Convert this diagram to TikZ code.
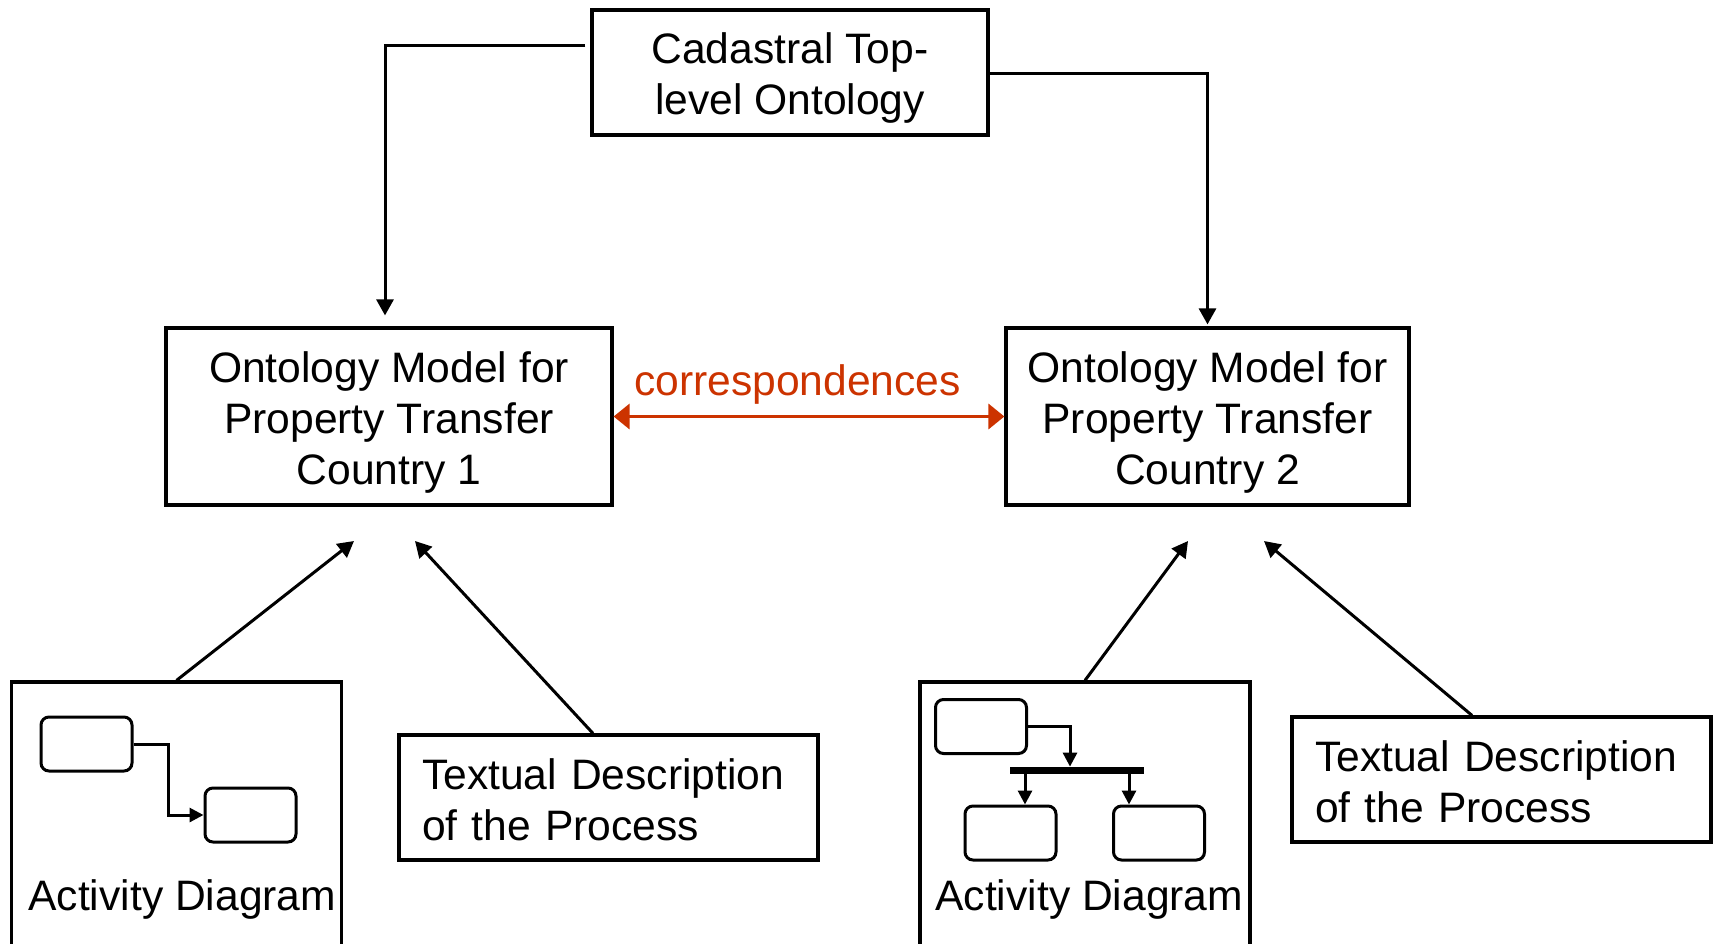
\documentclass[tikz,border=0pt]{standalone}
\usepackage{fontspec}
\setmainfont{Liberation Sans}
\usetikzlibrary{arrows.meta}

\definecolor{corrred}{RGB}{204,51,0}
\newcommand{\tallline}[1]{\rule{0pt}{#1}}
\tikzset{
  box/.style={draw, line width=1.6pt, align=center, inner sep=0pt, font=\fontsize{21.3}{25.5}\selectfont},
  textbox/.style={box, align=left, text width=186.5pt, inner xsep=11.5pt, minimum height=62.5pt},
  actbox/.style={draw, line width=1.6pt, inner sep=0pt, minimum width=165pt, minimum height=139pt},
  sbox/.style={draw, line width=1.5pt, rounded corners=4pt, inner sep=0pt, minimum width=45.5pt, minimum height=27pt},
  label/.style={inner sep=0pt, font=\fontsize{21.3}{25.5}\selectfont},
  link/.style={line width=1.5pt, -{Triangle[length=8pt,width=8.5pt]}},
  slink/.style={line width=1.5pt, -{Triangle[length=7pt,width=7pt]}},
  corrlink/.style={line width=1.75pt, corrred, {Triangle[length=8pt,width=12.5pt]}-{Triangle[length=8pt,width=12.5pt]}},
}

\begin{document}
\begin{tikzpicture}[x=0.5pt, y=-0.5pt]
\useasboundingbox (0,0) rectangle (1713,943);
\clip (0,0) rectangle (1713,943);

% Top level
\node[box, minimum width=198pt, minimum height=62.5pt] (top) at (790,72.5) {\tallline{21pt}Cadastral Top-\\level Ontology};

% Country models
\node[box, minimum width=223pt, minimum height=88.5pt] (modelA) at (389,416.5) {\tallline{21.5pt}Ontology Model for\\Property Transfer\\Country 1};
\node[box, minimum width=201.5pt, minimum height=88.5pt] (modelB) at (1207.5,416.5) {\tallline{21.5pt}Ontology Model for\\Property Transfer\\Country 2};

\draw[link, shorten <=2.5pt, shorten >=5.5pt] ([yshift=13.75pt]top.west) -| ([xshift=-2pt]modelA.north);
\draw[link, shorten >=1pt] ([yshift=-0.25pt]top.east) -| (modelB.north);

% Correspondences
\draw[corrlink] (modelA.east) -- (modelB.west);
\node[label, text=corrred, anchor=base] (corrtext) at (797.5,395) {correspondences};

% Sources, country 1
\node[actbox] (actA) at (176.5,821) {};
\node[label, anchor=base west] (actAtext) at (28,910) {Activity Diagram};
\node[sbox] (sA1) at (86.5,744) {};
\node[sbox] (sA2) at (250.5,815) {};
\coordinate (sAbend) at (168,744);
\draw[slink] (sA1.east) -- (sAbend) |- (sA2.west);
\node[textbox] (textA) at (608.5,797.5) {\tallline{17.5pt}Textual Description\\of the Process};

% Sources, country 2
\node[actbox] (actB) at (1085,821) {};
\node[label, anchor=base west] (actBtext) at (935,910) {Activity Diagram};
\node[sbox] (sB1) at (981,726.5) {};
\node[fill=black, inner sep=0pt, minimum width=67pt, minimum height=3.5pt] (fork) at (1077,770.5) {};
\node[sbox] (sB2) at (1010.5,833) {};
\node[sbox] (sB3) at (1159,833) {};
\draw[slink] (sB1.east) -| ([xshift=-3.5pt]fork.north);
\draw[slink] ([xshift=7.25pt]sB2.north |- fork.south) -- ([xshift=7.25pt]sB2.north);
\draw[slink] ([xshift=-15pt]sB3.north |- fork.south) -- ([xshift=-15pt]sB3.north);
\node[textbox] (textB) at (1501.5,779.5) {\tallline{17.5pt}Textual Description\\of the Process};

% Inputs to the models
\coordinate (inA1) at (354,541);
\coordinate (inA2) at (415,541);
\coordinate (inB1) at (1188,541);
\coordinate (inB2) at (1264,541);
\draw[link] (actA.north) -- (inA1);
\draw[link] ([xshift=-7.75pt]textA.north) -- (inA2);
\draw[link] (actB.north) -- (inB1);
\draw[link] ([xshift=-14.75pt]textB.north) -- (inB2);
\end{tikzpicture}
\end{document}
